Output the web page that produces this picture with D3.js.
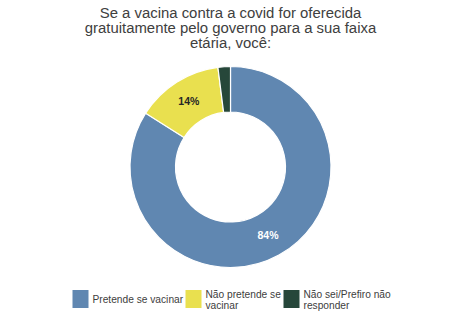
<!DOCTYPE html>
<html>
<head>
<meta charset="utf-8">
<script src="https://cdn.jsdelivr.net/npm/d3@7"></script>
<style>
  html, body { margin: 0; padding: 0; background: #fff; }
  svg { display: block; font-family: "Liberation Sans", Arial, sans-serif; }
</style>
</head>
<body>
<svg id="chart" width="455" height="335"></svg>
<script>
// Survey answers and their shares (%)
const categories = ["Pretende se vacinar", "Não pretende se vacinar", "Não sei/Prefiro não responder"];
const values = [84, 14, 2];
const valueLabels = ["84%", "14%", ""];
const legendLines = [["Pretende se vacinar"], ["Não pretende se", "vacinar"], ["Não sei/Prefiro não", "responder"]];
const titleLines = ["Se a vacina contra a covid for oferecida", "gratuitamente pelo governo para a sua faixa", "etária, você:"];

const colors = ["#6087b1", "#e9e04f", "#26473a"];
const labelColors = ["#ffffff", "#262626", "#ffffff"];

const svg = d3.select("#chart");
const cx = 230.5, cy = 167, outerR = 100.5, innerR = 55;

// Title
svg.append("g").selectAll("text")
  .data(titleLines)
  .join("text")
  .attr("x", 230.5)
  .attr("y", (d, i) => 18 + i * 15.2)
  .attr("text-anchor", "middle")
  .attr("font-size", 14.9)
  .attr("fill", "#404040")
  .text(d => d);

// Donut
const color = d3.scaleOrdinal().domain(categories).range(colors);
const pie = d3.pie().sort(null).value(d => d.value);
const data = categories.map((c, i) => ({ cat: c, value: values[i], label: valueLabels[i], lc: labelColors[i] }));
const arcs = pie(data);
const arc = d3.arc().innerRadius(innerR).outerRadius(outerR);
const labelArc = d3.arc().innerRadius((innerR + outerR) / 2).outerRadius((innerR + outerR) / 2);

const g = svg.append("g").attr("transform", `translate(${cx},${cy})`);
g.selectAll("path")
  .data(arcs)
  .join("path")
  .attr("d", arc)
  .attr("fill", d => color(d.data.cat))
  .attr("stroke", "#ffffff")
  .attr("stroke-width", 1.2);

g.selectAll("text")
  .data(arcs.filter(d => d.data.label))
  .join("text")
  .attr("transform", d => `translate(${labelArc.centroid(d)})`)
  .attr("text-anchor", "middle")
  .attr("dy", "0.35em")
  .attr("font-size", 10.5)
  .attr("font-weight", "bold")
  .attr("fill", d => d.data.lc)
  .text(d => d.data.label);

// Legend
const legendX = [72.5, 185.5, 283.5];
const lg = svg.append("g");
categories.forEach((c, i) => {
  const item = lg.append("g").attr("transform", `translate(${legendX[i]},290)`);
  item.append("rect")
    .attr("width", 16).attr("height", 18)
    .attr("fill", color(c));
  item.append("text")
    .attr("font-size", 10.2)
    .attr("fill", "#404040")
    .selectAll("tspan")
    .data(legendLines[i])
    .join("tspan")
    .attr("x", 20)
    .attr("y", (d, j) => legendLines[i].length === 1 ? 12.5 : 8 + j * 10.5)
    .text(d => d);
});
</script>
</body>
</html>
